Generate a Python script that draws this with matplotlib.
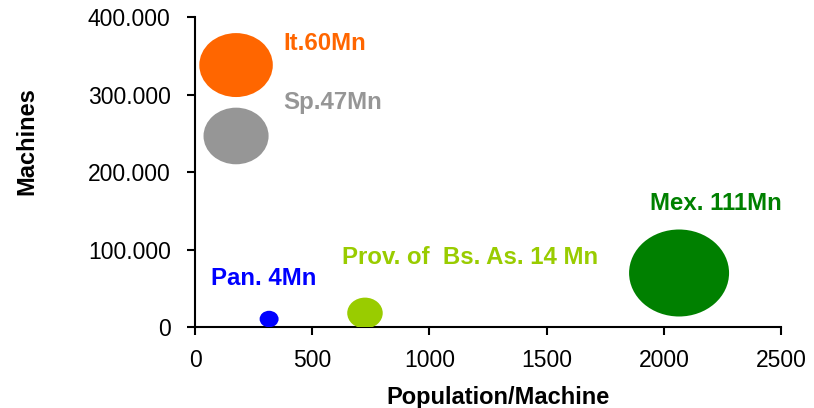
import matplotlib
matplotlib.use("Agg")
import matplotlib.pyplot as plt
from matplotlib.path import Path
from matplotlib.transforms import Affine2D
from matplotlib.ticker import FuncFormatter

plt.rcParams['font.family'] = ['Liberation Sans', 'DejaVu Sans']

# data
names = ["It.60Mn", "Sp.47Mn", "Pan. 4Mn", "Prov. of  Bs. As. 14 Mn", "Mex. 111Mn"]
pop_per_machine = [175, 175, 316, 725, 2065]
machines = [338000, 246500, 10300, 18000, 69700]
population = [60, 47, 4, 14, 111]
colors = ["#FF6600", "#969696", "#0000FF", "#99CC00", "#008000"]
label_x = [375, 375, 68, 627, 1941]
label_y = [366000, 290000, 62000, 90000, 160000]

# bubbles are a bit wider than tall in the original
oval = Affine2D().scale(1.0, 0.87).transform_path(Path.unit_circle())

fig = plt.figure(figsize=(8.14, 4.08), dpi=100)
ax = fig.add_axes([0.2396, 0.1985, 0.7199, 0.7598])

sizes = [p * 46.7 for p in population]
ax.scatter(pop_per_machine, machines, s=sizes, c=colors, marker=oval,
           linewidths=0, zorder=3)

for name, x, y, c in zip(names, label_x, label_y, colors):
    ax.text(x, y, name, color=c, fontsize=17.3, fontweight='bold',
            ha='left', va='center')

ax.set_xlim(0, 2500)
ax.set_ylim(0, 400000)
ax.set_xticks([0, 500, 1000, 1500, 2000, 2500])
ax.set_yticks([0, 100000, 200000, 300000, 400000])
ax.yaxis.set_major_formatter(FuncFormatter(lambda v, p: f"{int(v):,}".replace(",", ".")))

for s in ["top", "right"]:
    ax.spines[s].set_visible(False)
for s in ["left", "bottom"]:
    ax.spines[s].set_linewidth(1.5)

ax.tick_params(axis='both', direction='out', length=5.5, width=1.5, labelsize=16.5)
ax.tick_params(axis='x', pad=10)
ax.tick_params(axis='y', pad=12)

ax.set_xlabel("Population/Machine", fontsize=17, fontweight='bold')
ax.set_ylabel("Machines", fontsize=17, fontweight='bold')
ax.xaxis.set_label_coords(0.517, -0.19)
ax.yaxis.set_label_coords(-0.268, 0.6)

fig.savefig("out.png", dpi=100)
